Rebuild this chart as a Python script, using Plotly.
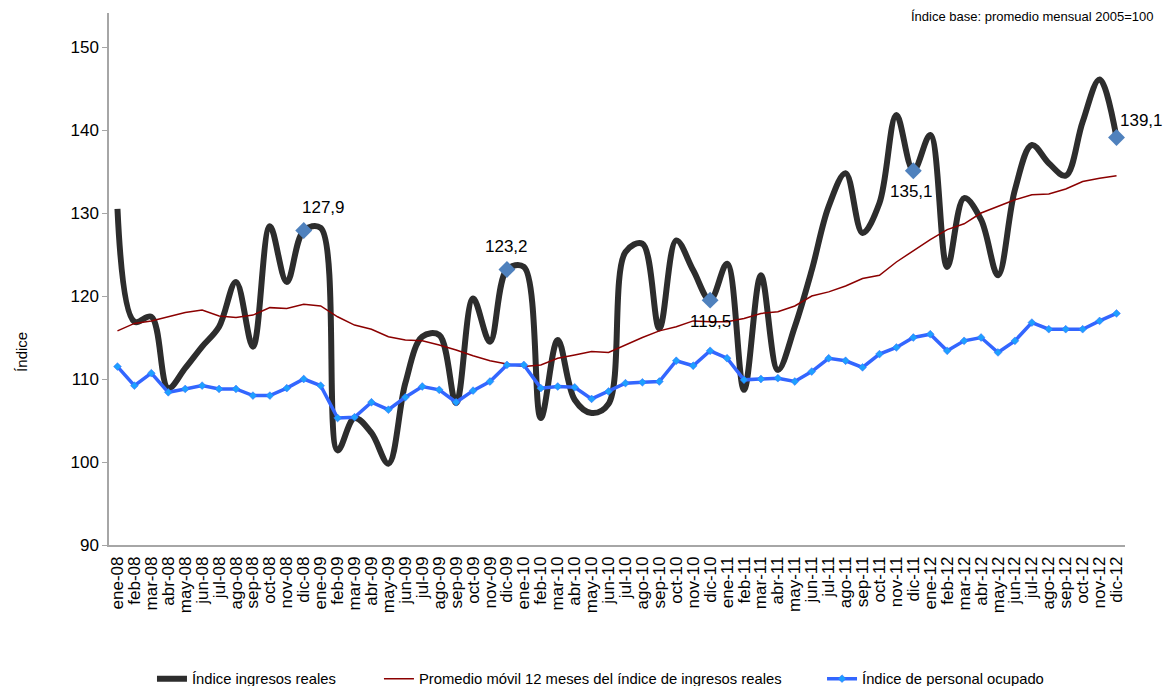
import plotly.graph_objects as go

months = ["ene", "feb", "mar", "abr", "may", "jun", "jul", "ago", "sep", "oct", "nov", "dic"]
years = ["08", "09", "10", "11", "12"]
categories = [f"{m}-{y}" for y in years for m in months]

ingresos = [
    130.5, 116.9, 117.5, 108.9, 111.3, 113.9, 116.3, 121.7, 113.9, 128.4, 121.7, 127.9,
    128.2, 101.4, 105.3, 103.5, 99.8, 109.5, 115.1, 115.3, 107.1, 119.7, 114.5, 123.2,
    123.5, 105.3, 114.7, 107.5, 105.9, 107.0, 125.3, 126.3, 116.1, 126.7, 123.1, 119.5,
    123.9, 108.7, 122.5, 111.1, 116.3, 123.1, 130.8, 134.8, 127.6, 131.2, 141.8, 135.1,
    139.4, 123.5, 131.8, 129.2, 122.5, 132.8, 138.2, 136.0, 134.5, 141.0, 146.1, 139.1,
]
promedio = [
    115.8, 116.7, 117.0, 117.5, 118.0, 118.3, 117.6, 117.4, 117.7, 118.6, 118.5, 119.0,
    118.8, 117.5, 116.5, 116.0, 115.1, 114.7, 114.6, 114.1, 113.5, 112.8, 112.2, 111.8,
    111.5, 111.7, 112.5, 112.9, 113.3, 113.2, 114.1, 115.0, 115.8, 116.3, 117.0, 116.9,
    116.9, 117.3, 117.9, 118.1, 118.8, 120.0, 120.5, 121.2, 122.1, 122.5, 124.1, 125.5,
    126.8, 128.0, 128.7, 130.0, 130.8, 131.6, 132.2, 132.3, 132.9, 133.8, 134.2, 134.5,
]
personal = [
    111.5, 109.2, 110.7, 108.4, 108.8, 109.2, 108.8, 108.8, 108.0, 108.0, 108.9, 110.0,
    109.2, 105.3, 105.4, 107.2, 106.3, 107.8, 109.1, 108.7, 107.2, 108.6, 109.7, 111.7,
    111.7, 108.9, 109.1, 109.0, 107.6, 108.5, 109.5, 109.6, 109.7, 112.2, 111.6, 113.4,
    112.5, 109.9, 110.0, 110.1, 109.7, 110.9, 112.5, 112.2, 111.4, 113.0, 113.8, 115.0,
    115.4, 113.4, 114.6, 115.0, 113.2, 114.6, 116.8, 116.0, 116.0, 116.0, 117.0, 117.9,
]
labeled_months = ["dic-08", "dic-09", "dic-10", "dic-11", "dic-12"]
label_texts = ["127,9", "123,2", "119,5", "135,1", "139,1"]
label_shifts = [(20, 23), (0, 23), (0, -21), (-2, -21), (25, 17)]
y_ticks = [90, 100, 110, 120, 130, 140, 150]

FONT = "Arial, 'Liberation Sans', sans-serif"

fig = go.Figure()
fig.add_trace(go.Scatter(
    x=categories, y=ingresos, mode="lines", name="Índice ingresos reales", legend="legend",
    line=dict(color="#2d2d2d", width=6, shape="spline", smoothing=1.0),
))
fig.add_trace(go.Scatter(
    x=categories, y=promedio, mode="lines", legend="legend2",
    name="Promedio móvil 12 meses del índice de ingresos reales",
    line=dict(color="#8B0000", width=1.5),
))
fig.add_trace(go.Scatter(
    x=categories, y=personal, mode="lines+markers", name="Índice de personal ocupado",
    legend="legend3",
    line=dict(color="#3366FF", width=3.5),
    marker=dict(symbol="diamond", size=6, color="#1EA0FF", line=dict(color="#3366FF", width=0.5)),
))
lab_vals = [ingresos[categories.index(m)] for m in labeled_months]
fig.add_trace(go.Scatter(
    x=labeled_months, y=lab_vals, mode="markers", showlegend=False, hoverinfo="skip",
    marker=dict(symbol="diamond", size=13, color="#4F81BD"),
))
for m, v, t, (dx, dy) in zip(labeled_months, lab_vals, label_texts, label_shifts):
    fig.add_annotation(x=m, y=v, text=t, showarrow=False, xshift=dx, yshift=dy,
                       font=dict(size=17, color="#000000", family=FONT))

fig.add_annotation(xref="paper", yref="paper", x=1.0, y=1.0, xanchor="right", yanchor="middle",
                   text="Índice base: promedio mensual 2005=100", showarrow=False,
                   font=dict(size=13, color="#000000", family=FONT), xshift=30, yshift=-3)
fig.add_annotation(xref="paper", yref="paper", x=0, y=0.363, xanchor="center", yanchor="middle",
                   text="Índice", textangle=-90, showarrow=False,
                   font=dict(size=15, color="#000000", family=FONT), xshift=-87)

leg_common = dict(orientation="h", xanchor="left", y=-0.252, yanchor="middle",
                  font=dict(size=14.8, family=FONT, color="#000000"), bgcolor="rgba(0,0,0,0)")

fig.update_layout(
    width=1167, height=686,
    margin=dict(l=109, r=42, t=13, b=141, autoexpand=False),
    paper_bgcolor="white", plot_bgcolor="white",
    font=dict(family=FONT, color="#000000"),
    showlegend=True,
    legend=dict(x=0.0423, **leg_common),
    legend2=dict(x=0.2657, **leg_common),
    legend3=dict(x=0.7018, **leg_common),
    xaxis=dict(type="category", range=[-0.5, len(categories) - 0.5],
               tickmode="array", tickvals=categories, ticktext=categories,
               tickangle=-90, showline=True, linecolor="#A6A6A6", linewidth=1.5,
               showgrid=False, ticks="", tickfont=dict(size=17), zeroline=False, automargin=False,
               ticklabelstandoff=3),
    yaxis=dict(range=[90, 154.1], tickvals=y_ticks, showline=True, linecolor="#A6A6A6", linewidth=1.5,
               showgrid=False, ticks="outside", ticklen=5, tickcolor="#A6A6A6", tickfont=dict(size=17),
               zeroline=False, automargin=False),
)

fig.write_html("out.html", config={"displayModeBar": False},
               post_script="document.body.style.margin='0';")
